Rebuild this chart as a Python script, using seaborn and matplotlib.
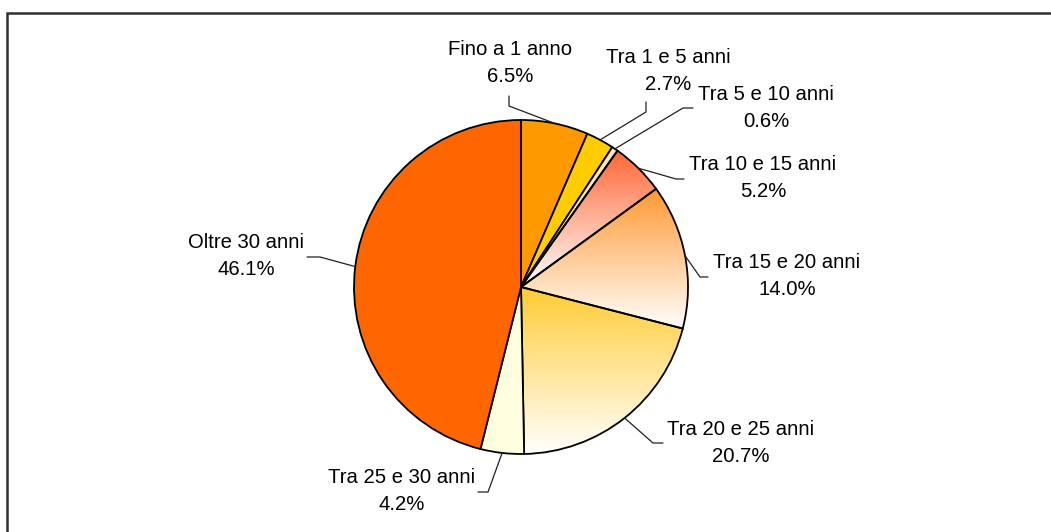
import numpy as np
import matplotlib
matplotlib.use("Agg")
import matplotlib.pyplot as plt
import seaborn as sns
from matplotlib.colors import to_rgb
from matplotlib.patches import Rectangle

# data
categories = ["Fino a 1 anno", "Tra 1 e 5 anni", "Tra 5 e 10 anni", "Tra 10 e 15 anni",
              "Tra 15 e 20 anni", "Tra 20 e 25 anni", "Tra 25 e 30 anni", "Oltre 30 anni"]
shares = [6.5, 2.7, 0.6, 5.2, 14.0, 20.7, 4.2, 46.1]

# colours, some slices fade to white from the top
colors = ["#FF9900", "#FFCC00", "#FFE6C0", "#FF6633", "#FF9933", "#FFCC33", "#FFFFE0", "#FF6600"]
gradient = [False, False, False, True, True, True, False, False]

sns.set_theme(style="white")
plt.rcParams["font.family"] = ["Liberation Sans", "DejaVu Sans"]

W, H = 1051, 532
fig = plt.figure(figsize=(W / 100, H / 100), dpi=100)
ax = fig.add_axes([0, 0, 1, 1])

cx, cy, r = 521, H - 287, 167

wedges, _ = ax.pie(shares, colors=colors, startangle=90, counterclock=False,
                   center=(cx, cy), radius=r,
                   wedgeprops=dict(edgecolor="black", linewidth=1.3))

for w, col, g in zip(wedges, colors, gradient):
    if not g:
        continue
    w.set_facecolor("none")
    th = np.radians(np.linspace(w.theta1, w.theta2, 100))
    xs = np.concatenate([[cx], cx + r * np.cos(th)])
    ys = np.concatenate([[cy], cy + r * np.sin(th)])
    c = np.array(to_rgb(col))
    t = np.linspace(0, 1, 256)[:, None]
    img = (c[None, :] * (1 - t) + np.ones(3)[None, :] * t)[:, None, :]
    im = ax.imshow(img, extent=(xs.min(), xs.max(), ys.min(), ys.max()),
                   origin="upper", aspect="auto", zorder=0.5)
    im.set_clip_path(w)

# label layout (image pixel coords): text centre, elbow, end of leader
text_pos = [(510, 63), (668, 71), (766, 108), (763, 178),
            (787, 276), (741, 443), (402, 491), (246, 256)]
elbows = [((509, 106), (509, 96)), ((646, 112), (646, 102)),
          ((683, 108), (693, 108)), ((676, 179), (684, 179)),
          ((700, 277), (708, 277)), ((653, 443), (663, 443)),
          ((488, 492), (478, 492)), ((320, 257), (307, 257))]

for w, name, val, tp, (e1, e2) in zip(wedges, categories, shares, text_pos, elbows):
    mid = np.radians((w.theta1 + w.theta2) / 2)
    sx, sy = cx + r * np.cos(mid), cy + r * np.sin(mid)
    ax.plot([sx, e1[0], e2[0]], [sy, H - e1[1], H - e2[1]],
            color="#202020", linewidth=0.9, zorder=3)
    ax.text(tp[0], H - tp[1], f"{name}\n{val:.1f}%", ha="center", va="center",
            fontsize=14.6, color="black", linespacing=1.55)

# chart frame
ax.add_patch(Rectangle((7, -20), 1200, H - 13 + 20, fill=False,
                       edgecolor="#303030", linewidth=1.8, zorder=5))

ax.set_xlim(0, W)
ax.set_ylim(0, H)
ax.set_aspect("equal")
ax.axis("off")

fig.savefig("out.png", dpi=100)
